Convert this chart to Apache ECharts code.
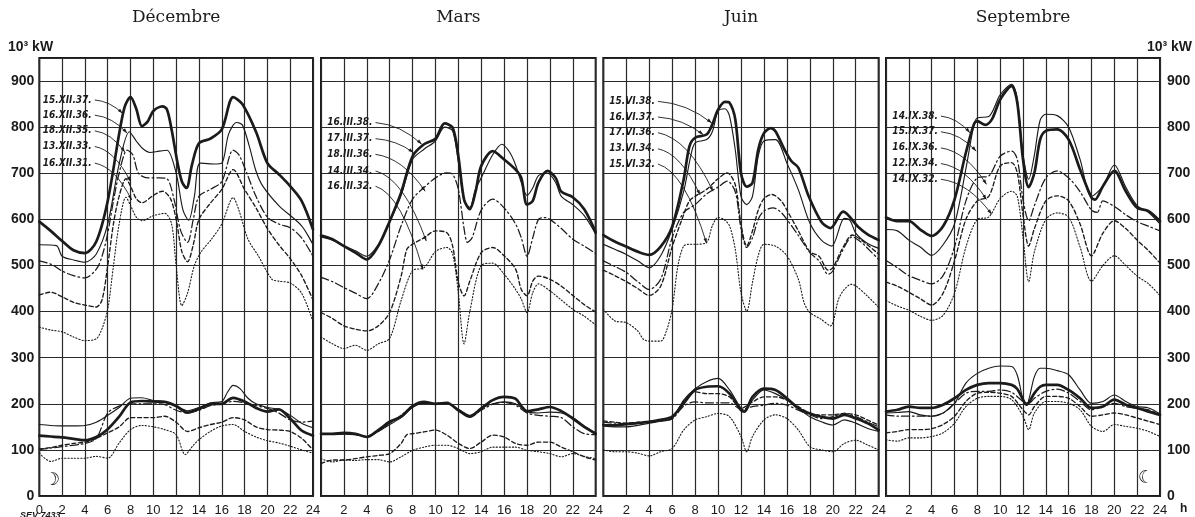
<!DOCTYPE html>
<html><head><meta charset="utf-8">
<script src="https://cdn.jsdelivr.net/npm/echarts@6/dist/echarts.min.js"></script>
<style>html,body{margin:0;padding:0;background:#fff}#c{width:1195px;height:517px}</style>
</head><body><div id="c"></div>
<script>
// ---------- categories / labels ----------
const months = ['Décembre', 'Mars', 'Juin', 'Septembre'];
const decNames = ['15.XII.37.', '16.XII.36.', '18.XII.35.', '13.XII.33.', '16.XII.31.'];
const marNames = ['16.III.38.', '17.III.37.', '18.III.36.', '14.III.34.', '16.III.32.'];
const junNames = ['15.VI.38.', '16.VI.37.', '17.VI.36.', '13.VI.34.', '15.VI.32.'];
const sepNames = ['14.IX.38.', '15.IX.37.', '16.IX.36.', '12.IX.34.', '14.IX.32.'];
const yTicks = [0, 100, 200, 300, 400, 500, 600, 700, 800, 900];

// label anchors [hour, kW] and arrow targets [hour, kW]
const decAnchor = [[4.6,859],[4.6,826],[4.6,792],[4.6,758],[4.6,722]];
const decTarget = [[7.3,830],[7.7,787],[7.5,746],[8.0,682],[8.1,642]];
const marAnchor = [[4.5,810],[4.5,775],[4.5,741],[4.5,705],[4.5,672]];
const marTarget = [[8.8,763],[8.07,745],[9.1,661],[9.2,553],[8.9,491]];
const junAnchor = [[4.5,856],[4.5,822],[4.5,788],[4.5,753],[4.5,720]];
const junTarget = [[9.45,809],[8.7,784],[9.56,661],[8.43,653],[9.0,548]];
const sepAnchor = [[4.55,824],[4.55,790],[4.55,755],[4.55,721],[4.55,687]];
const sepTarget = [[7.35,788],[7.9,748],[8.8,676],[8.8,643],[9.25,611]];

// ---------- Décembre ----------
const decU1 = [[0,595],[1,575],[2,553],[3,533],[4,527],[5,552],[6,640],[7,785],[7.5,845],[8,865],[8.5,840],[9,802],[9.5,812],[10,835],[10.8,845],[11.2,838],[11.6,795],[12.1,725],[12.5,682],[12.9,668],[13.4,720],[14,765],[15,775],[16,795],[17,865],[17.8,850],[19,790],[20,722],[21,698],[22,672],[23,640],[24,578]];
const decU2 = [[0,545],[1.5,543],[2,520],[3,512],[4,507],[5,525],[6,590],[7,720],[7.9,790],[8.5,770],[9,755],[9.7,745],[10.5,748],[11.2,750],[12,700],[12.6,620],[13.1,598],[13.6,650],[14.1,722],[15.3,720],[16,722],[16.6,785],[17.3,810],[17.8,805],[18.4,760],[19,705],[19.6,672],[21,630],[23,586],[24,545]];
const decU3 = [[0,510],[1,503],[2,488],[3,478],[4,473],[5,492],[5.5,520],[6,570],[6.5,640],[7,700],[7.7,750],[8.2,740],[8.7,700],[9.5,690],[10.5,690],[11.2,688],[11.8,645],[12.4,575],[13,550],[13.5,600],[14,650],[15,665],[16,682],[17,750],[17.5,740],[18.2,700],[19,650],[20,605],[21,590],[22,582],[23,560],[24,520]];
const decU4 = [[0,436],[1,442],[2,432],[3,420],[4,414],[5,410],[5.5,425],[6,500],[6.5,590],[7,650],[7.6,688],[8,672],[8.5,645],[9,636],[10,652],[10.8,661],[11.5,645],[12,600],[12.5,530],[13,508],[13.5,545],[14,600],[15,635],[16,665],[17,708],[18,665],[19,625],[20,580],[21,545],[22,515],[23,478],[24,425]];
const decU5 = [[0,366],[1,360],[2,356],[3,345],[4,337],[5,341],[5.5,363],[6,405],[6.5,499],[7,590],[7.6,648],[8,630],[8.5,605],[9,597],[10,608],[11,613],[11.6,590],[12,500],[12.5,413],[13,440],[13.6,500],[14.2,530],[15.1,557],[16,590],[17,647],[17.5,620],[18.3,557],[19.2,521],[20.4,470],[21,466],[22,462],[23,440],[24,378]];
const decL1 = [[0,131],[1,129],[2,127],[3,124],[4,121],[5,128],[6,145],[7,172],[8,203],[9,206],[10,205],[11,204],[12,195],[13,181],[14,189],[15,199],[16,200],[17,213],[18,205],[19,191],[20,183],[21,188],[22,168],[23,142],[24,131]];
const decL2 = [[0,155],[1,153],[2,152],[3,152],[4,153],[5,160],[6,175],[7,192],[8,212],[9,213],[10,207],[11,205],[12,195],[13,185],[14,192],[15,202],[16,205],[16.5,225],[17,240],[17.6,233],[18.3,212],[19,200],[20,192],[21,188],[22,175],[23,158],[24,148]];
const decL3 = [[0,101],[2,107],[4,114],[5,125],[6,180],[7,195],[8,200],[9,200],[10,200],[11,198],[12,186],[13,180],[14,186],[15,196],[16,200],[17,205],[18,202],[19,196],[20,190],[21,180],[22,165],[23,160],[24,163]];
const decL4 = [[0,102],[1,105],[2,110],[3,114],[4,117],[5,125],[6,137],[7,150],[8,170],[9,170],[10,170],[11,173],[12,160],[13,140],[14,148],[15,155],[16,160],[17,170],[18,165],[19,150],[20,144],[21,143],[22,140],[23,125],[24,100]];
const decL5 = [[0,93],[1,75],[2,82],[3,82],[4,82],[5,86],[6,82],[7,115],[8,144],[9,153],[10,150],[11,144],[12,133],[12.8,90],[13.5,110],[14,122],[15,140],[16,152],[17,155],[18,140],[19,128],[20,120],[21,115],[22,108],[23,100],[24,93]];

// ---------- Mars ----------
const marU1 = [[0,565],[1,557],[2,542],[3,528],[4,513],[5,542],[6,596],[7,658],[8,737],[9,763],[10,775],[10.8,808],[11.5,799],[12,737],[12.5,643],[13,622],[13.5,660],[14,716],[15,748],[16,730],[17,708],[17.5,690],[18,632],[18.5,640],[19,680],[19.8,705],[20.5,690],[21,660],[22,648],[23,622],[24,572]];
const marU2 = [[0,562],[1,555],[2,543],[3,532],[4,520],[5,545],[6,594],[7,652],[8,730],[9,752],[10,770],[10.8,800],[11.5,792],[12,725],[12.5,640],[13,626],[13.5,665],[14,690],[15,740],[15.8,763],[16.5,745],[17,718],[17.5,680],[18,652],[18.5,668],[19,695],[19.8,700],[20.5,680],[21,650],[22,632],[23,608],[24,568]];
const marU3 = [[0,474],[1,465],[2,452],[3,440],[4,428],[5,460],[6,513],[7,586],[8,644],[9,669],[10,690],[11,701],[11.5,698],[12,665],[12.5,580],[12.8,550],[13.2,560],[14,620],[15,644],[16,625],[17,590],[17.5,560],[18,520],[18.5,560],[19,600],[19.5,604],[20,600],[21,580],[22,557],[23,542],[24,526]];
const marU4 = [[0,398],[1,385],[2,369],[3,362],[4,358],[5,369],[6,398],[7,477],[7.5,535],[8,546],[9,560],[10,575],[11,571],[11.5,542],[12,463],[12.5,434],[13,466],[14,528],[15,539],[16,521],[17,492],[17.5,448],[18,434],[18.5,466],[19,477],[20,470],[21,455],[22,435],[23,415],[24,399]];
const marU5 = [[0,345],[1,330],[2,320],[3,327],[4,316],[5,330],[6,342],[7,424],[8,489],[9,495],[10,530],[11,539],[11.5,525],[12,440],[12.5,330],[13,400],[14,500],[15,505],[16,481],[17,448],[17.5,427],[18,398],[18.5,441],[19,460],[20,445],[21,425],[22,405],[23,390],[24,371]];
const marL1 = [[0,135],[1,135],[2,137],[3,135],[4,128],[5,143],[6,161],[7,172],[8,195],[9,204],[10,200],[11,202],[12,186],[13,172],[14,190],[15,208],[16,215],[17,211],[17.5,195],[18,184],[19,188],[20,193],[21,184],[22,168],[23,150],[24,135]];
const marL2 = [[0,133],[1,133],[2,134],[3,133],[4,129],[5,140],[6,155],[7,170],[8,192],[9,202],[10,200],[11,201],[12,188],[13,175],[14,190],[15,200],[16,204],[17,200],[18,183],[19,180],[20,182],[21,180],[22,170],[23,152],[24,137]];
const marL3 = [[0,134],[1,134],[2,135],[3,133],[4,130],[5,140],[6,158],[7,175],[8,195],[9,201],[10,201],[11,201],[12,185],[13,172],[14,186],[15,199],[16,203],[17,197],[18,180],[19,175],[20,173],[21,170],[22,150],[23,135],[24,133]];
const marL4 = [[0,70],[1,78],[2,78],[3,81],[4,85],[5,88],[6,92],[7,114],[7.5,133],[8,135],[9,139],[10,143],[11,132],[12,114],[13,103],[14,117],[15,132],[16,128],[17,114],[18,110],[19,117],[20,117],[21,106],[22,96],[23,85],[24,78]];
const marL5 = [[0,81],[1,74],[2,78],[3,77],[4,79],[5,79],[6,74],[7,85],[8,99],[9,106],[10,110],[11,110],[12,103],[13,92],[14,96],[15,106],[16,106],[17,106],[18,99],[19,96],[20,92],[21,85],[22,92],[23,86],[24,81]];

// ---------- Juin ----------
const junU1 = [[0,566],[1,552],[2,541],[3,530],[4,523],[5,541],[6,584],[7,686],[7.5,758],[8,777],[9,784],[9.5,806],[10,838],[10.6,855],[11,853],[11.5,817],[12,700],[12.5,671],[13,679],[13.5,751],[14,787],[14.6,798],[15,791],[15.8,751],[16.4,726],[17,712],[17.9,650],[19,595],[19.8,581],[20.9,617],[22.2,584],[23,568],[24,555]];
const junU2 = [[0,546],[1,535],[2,524],[3,510],[4,495],[5,521],[6,579],[7,660],[7.6,735],[8,766],[9,773],[9.5,790],[10,835],[10.6,840],[11,824],[11.5,751],[12,650],[12.5,632],[13,650],[13.5,737],[14,770],[15,773],[16,722],[17,664],[18,592],[19,555],[19.9,542],[21,602],[21.5,598],[22,570],[23,548],[24,537]];
const junU3 = [[0,510],[1,498],[2,485],[3,465],[4,448],[5,470],[6,560],[7,615],[8,632],[9,655],[10,670],[10.8,683],[11.5,660],[12,580],[12.5,539],[13,560],[13.5,600],[14,618],[14.8,625],[15.5,615],[16,600],[17,565],[18,528],[18.8,510],[19.6,481],[20,488],[20.8,530],[21.7,562],[22.5,550],[23,538],[24,513]];
const junU4 = [[0,490],[1,478],[2,465],[3,450],[4,435],[5,455],[6,540],[7,610],[7.5,640],[8,650],[9,665],[10,688],[10.8,701],[11.5,675],[12,590],[12.5,542],[13,575],[13.5,620],[14,645],[14.7,654],[15.5,640],[16,620],[17,575],[18,530],[18.8,520],[19.6,490],[20,495],[20.8,535],[21.7,566],[22.5,555],[23,545],[24,525]];
const junU5 = [[0,405],[1,380],[2,376],[3,358],[3.5,340],[4,336],[5,336],[5.5,358],[6,405],[6.5,499],[7,542],[7.5,546],[8,546],[9,550],[9.5,586],[10,604],[10.5,600],[11,586],[11.5,535],[12,441],[12.5,401],[13,463],[13.5,521],[14,546],[15,542],[16,521],[17,470],[17.5,419],[18,398],[19,383],[19.8,369],[20.5,427],[21,448],[21.6,459],[22,456],[23,434],[24,409]];
const junL1 = [[0,154],[1,153],[2,156],[3,158],[4,161],[5,165],[6,172],[7,201],[8,230],[9,237],[10,238],[11,222],[12,186],[12.3,183],[13,215],[14,233],[15,230],[16,212],[17,190],[18,179],[19,172],[20,168],[21,176],[22,168],[23,158],[24,143]];
const junL2 = [[0,152],[1,150],[2,150],[3,153],[4,158],[5,162],[6,168],[7,208],[8,233],[9,248],[10,255],[11,230],[12,190],[12.3,186],[13,208],[14,230],[15,222],[16,208],[17,190],[18,172],[19,161],[20,154],[21,165],[22,158],[23,147],[24,140]];
const junL3 = [[0,160],[1,158],[2,157],[3,158],[4,160],[5,163],[6,167],[7,195],[8,204],[9,202],[10,202],[11,202],[12,188],[13,194],[14,197],[15,201],[16,197],[17,186],[18,176],[19,168],[20,172],[21,179],[22,172],[23,161],[24,150]];
const junL4 = [[0,163],[1,160],[2,158],[3,160],[4,162],[5,165],[6,170],[7,205],[8,226],[9,222],[10,222],[11,215],[12,190],[13,204],[14,215],[15,215],[16,208],[17,194],[18,179],[19,176],[20,176],[21,179],[22,176],[23,165],[24,154]];
const junL5 = [[0,100],[1,96],[2,96],[3,93],[4,87],[5,96],[6,103],[7,143],[8,165],[9,172],[10,179],[11,172],[12,129],[12.5,96],[13,129],[14,165],[15,176],[16,168],[17,143],[18,107],[19,100],[20,96],[21,114],[22,121],[23,111],[24,100]];

// ---------- Septembre ----------
const sepU1 = [[0,604],[1,596],[2,596],[3,578],[4,564],[5,585],[6,643],[7,745],[7.7,806],[8,813],[8.7,805],[9.3,818],[10,860],[11,889],[11.5,853],[12,730],[12.5,670],[13,701],[13.5,773],[14,792],[15,795],[16,773],[17,708],[18,647],[18.3,643],[19,672],[20,705],[21,661],[22,625],[23,618],[24,596]];
const sepU2 = [[0,578],[1,575],[2,555],[3,540],[4,522],[5,545],[6,590],[7,710],[7.7,805],[8,820],[9,823],[10,870],[11,893],[11.5,860],[12,740],[12.5,687],[13,740],[13.5,815],[14,828],[15,825],[16,800],[17,730],[18,650],[19,672],[20,718],[21,670],[22,630],[23,615],[24,590]];
const sepU3 = [[0,511],[1,495],[2,478],[3,468],[4,460],[5,478],[6,540],[7,640],[8,690],[9,694],[10,737],[11,748],[11.5,730],[12,643],[12.5,597],[13,630],[14,690],[15,705],[16,690],[17,660],[18,620],[18.5,615],[19,640],[20,628],[21,610],[22,595],[23,585],[24,575]];
const sepU4 = [[0,464],[1,455],[2,442],[3,428],[4,414],[5,440],[6,510],[7,600],[8,640],[9,650],[10,716],[11,723],[11.5,701],[12,610],[12.5,542],[13,580],[14,640],[15,651],[16,640],[17,590],[18,521],[19,570],[20,597],[21,580],[22,555],[23,532],[24,505]];
const sepU5 = [[0,424],[1,412],[2,403],[3,390],[4,381],[5,392],[6,440],[7,540],[8,600],[9,605],[10,645],[11,661],[11.5,650],[12,560],[12.5,465],[13,530],[14,600],[15,614],[16,605],[17,540],[18,466],[19,500],[20,521],[21,500],[22,477],[23,460],[24,435]];
const sepL1 = [[0,183],[1,187],[2,194],[3,191],[4,191],[5,198],[6,212],[7,230],[8,241],[9,245],[10,245],[11,241],[11.5,232],[12,209],[12.3,198],[13,223],[13.5,237],[14,241],[15,241],[16,230],[17,212],[18,191],[19,194],[20,209],[21,198],[22,191],[23,183],[24,176]];
const sepL2 = [[0,180],[1,181],[2,183],[3,176],[4,173],[5,180],[6,201],[7,245],[8,266],[9,277],[10,282],[11,281],[11.5,262],[12,209],[12.3,198],[13,259],[13.5,277],[14,277],[15,272],[16,263],[17,230],[18,201],[19,205],[20,219],[21,205],[22,194],[23,191],[24,178]];
const sepL3 = [[0,176],[1,173],[2,173],[3,173],[4,173],[5,180],[6,201],[7,223],[8,227],[9,227],[10,230],[11,225],[12,205],[12.5,201],[13,212],[14,227],[15,232],[16,223],[17,205],[18,187],[19,194],[20,201],[21,194],[22,190],[23,187],[24,176]];
const sepL4 = [[0,137],[1,140],[2,144],[3,144],[4,146],[5,155],[6,173],[7,205],[8,223],[9,225],[10,223],[11,216],[12,187],[12.5,176],[13,194],[14,216],[15,216],[16,212],[17,194],[18,173],[19,176],[20,180],[21,176],[22,169],[23,162],[24,155]];
const sepL5 = [[0,122],[1,119],[2,126],[3,126],[4,129],[5,137],[6,158],[7,194],[8,212],[9,216],[10,216],[11,209],[12,173],[12.5,144],[13,180],[14,205],[15,205],[16,201],[17,187],[18,151],[19,140],[20,155],[21,151],[22,147],[23,140],[24,129]];

// ---------- layout & styles ----------
const panelLeft = [39.3, 321, 603.3, 886];
const panelWidth = [273.7, 274.7, 275.4, 274];
const gridTop = 58, gridHeight = 438.5;
const INK = '#1b1b1b';
const styles = {
  thick:   {width: 2.7, type: 'solid'},
  thin:    {width: 1.15, type: 'solid'},
  dashdot: {width: 1.25, type: [8, 3, 1.6, 3]},
  dashed:  {width: 1.35, type: [4, 2.6]},
  dotted:  {width: 1.1, type: [1.2, 2]}
};
const styleOrder = ['thick', 'thin', 'dashdot', 'dashed', 'dotted'];

const panels = [
  {upper: [decU1, decU2, decU3, decU4, decU5], lower: [decL1, decL2, decL3, decL4, decL5], names: decNames, anchor: decAnchor, target: decTarget},
  {upper: [marU1, marU2, marU3, marU4, marU5], lower: [marL1, marL2, marL3, marL4, marL5], names: marNames, anchor: marAnchor, target: marTarget},
  {upper: [junU1, junU2, junU3, junU4, junU5], lower: [junL1, junL2, junL3, junL4, junL5], names: junNames, anchor: junAnchor, target: junTarget},
  {upper: [sepU1, sepU2, sepU3, sepU4, sepU5], lower: [sepL1, sepL2, sepL3, sepL4, sepL5], names: sepNames, anchor: sepAnchor, target: sepTarget}
];

const NUMFONT = '"Liberation Sans", Arial, sans-serif';
const grids = [], xAxes = [], yAxes = [], series = [];
panels.forEach((p, i) => {
  grids.push({left: panelLeft[i], width: panelWidth[i], top: gridTop, height: gridHeight,
    show: true, borderColor: INK, borderWidth: 2, backgroundColor: 'transparent', containLabel: false});
  xAxes.push({type: 'value', gridIndex: i, min: 0, max: 24, interval: 2,
    axisLine: {show: false}, axisTick: {show: false},
    splitLine: {show: true, lineStyle: {color: '#2a2a2a', width: 1.2}},
    axisLabel: {show: true, margin: 8, fontSize: 13, color: INK, fontFamily: NUMFONT,
      showMinLabel: true, showMaxLabel: true,
      formatter: v => (i > 0 && v === 0) ? '' : String(v)}});
  yAxes.push({type: 'value', gridIndex: i, min: 0, max: 950, interval: 100,
    position: i === 3 ? 'right' : 'left',
    axisLine: {show: false}, axisTick: {show: false},
    splitLine: {show: true, lineStyle: {color: '#2a2a2a', width: 1.2}},
    axisLabel: {show: i === 0 || i === 3, margin: i === 3 ? 7 : 5, fontSize: 14, fontWeight: 'bold',
      color: INK, fontFamily: NUMFONT,
      formatter: v => yTicks.indexOf(v) >= 0 ? String(v) : ''}});
  [p.upper, p.lower].forEach(group => {
    group.forEach((d, k) => {
      const st = styles[styleOrder[k]];
      series.push({type: 'line', xAxisIndex: i, yAxisIndex: i, data: d,
        smooth: 0.3, symbol: 'none', silent: true, z: 3,
        lineStyle: {color: INK, width: st.width, type: st.type, cap: 'round', join: 'round'}});
    });
  });
});

const chart = echarts.init(document.getElementById('c'), null, {renderer: 'canvas', width: 1195, height: 517});
chart.setOption({
  backgroundColor: '#ffffff',
  animation: false,
  grid: grids, xAxis: xAxes, yAxis: yAxes, series: series
});

// ---------- annotations ----------
const g = [];
const centers = panelLeft.map((l, i) => l + panelWidth[i] / 2);
months.forEach((m, i) => {
  g.push({type: 'text', x: centers[i], y: 18, z: 10,
    style: {text: m, fill: INK, fontSize: 17, fontFamily: '"DejaVu Serif", "Liberation Serif", serif',
      align: 'center', verticalAlign: 'middle', textAlign: 'center', textVerticalAlign: 'middle'}});
});
g.push({type: 'text', x: 8, y: 47, z: 10, style: {text: '10³ kW', fill: INK, fontSize: 14, fontWeight: 'bold', fontFamily: NUMFONT,
  align: 'left', verticalAlign: 'middle', textAlign: 'left', textVerticalAlign: 'middle'}});
g.push({type: 'text', x: 1192, y: 47, z: 10, style: {text: '10³ kW', fill: INK, fontSize: 14, fontWeight: 'bold', fontFamily: NUMFONT,
  align: 'right', verticalAlign: 'middle', textAlign: 'right', textVerticalAlign: 'middle'}});
g.push({type: 'text', x: 1180, y: 509, z: 10, style: {text: 'h', fill: INK, fontSize: 12, fontWeight: 'bold', fontFamily: NUMFONT,
  align: 'left', verticalAlign: 'middle', textAlign: 'left', textVerticalAlign: 'middle'}});
g.push({type: 'text', x: 52, y: 480, z: 10, style: {text: '☽', fill: INK, fontSize: 18, fontFamily: '"DejaVu Sans", sans-serif',
  align: 'center', verticalAlign: 'middle', textAlign: 'center', textVerticalAlign: 'middle'}});
g.push({type: 'text', x: 1146, y: 478, z: 10, style: {text: '☾', fill: INK, fontSize: 18, fontFamily: '"DejaVu Sans", sans-serif',
  align: 'center', verticalAlign: 'middle', textAlign: 'center', textVerticalAlign: 'middle'}});
g.push({type: 'text', x: 20, y: 511, z: 10, style: {text: 'SEV 7433', fill: INK, fontSize: 9, fontStyle: 'italic', fontWeight: 'bold',
  fontFamily: NUMFONT, align: 'left', verticalAlign: 'top', textAlign: 'left', textVerticalAlign: 'top'}});

panels.forEach((p, i) => {
  p.names.forEach((n, k) => {
    const a = chart.convertToPixel({gridIndex: i}, p.anchor[k]);
    const t = chart.convertToPixel({gridIndex: i}, p.target[k]);
    g.push({type: 'text', x: a[0], y: a[1], z: 10,
      style: {text: n, fill: INK, fontSize: 10, fontStyle: 'italic', fontWeight: 'bold',
        fontFamily: '"DejaVu Sans Condensed", "Liberation Sans Narrow", "DejaVu Sans", sans-serif',
        align: 'right', verticalAlign: 'middle', textAlign: 'right', textVerticalAlign: 'middle'}});
    const sx = a[0] + 3, sy = a[1];
    const cx = sx + (t[0] - sx) * 0.55, cy = sy + (t[1] - sy) * 0.1;
    g.push({type: 'bezierCurve', z: 10, shape: {x1: sx, y1: sy, x2: t[0], y2: t[1], cpx1: cx, cpy1: cy},
      style: {stroke: INK, lineWidth: 0.9, fill: null}});
    const dx = t[0] - cx, dy = t[1] - cy, L = Math.hypot(dx, dy) || 1;
    const ux = dx / L, uy = dy / L, bx = t[0] - ux * 5, by = t[1] - uy * 5;
    g.push({type: 'polygon', z: 10, shape: {points: [[t[0], t[1]], [bx - uy * 1.7, by + ux * 1.7], [bx + uy * 1.7, by - ux * 1.7]]},
      style: {fill: INK}});
  });
});
chart.setOption({graphic: g});
</script>
</body></html>
